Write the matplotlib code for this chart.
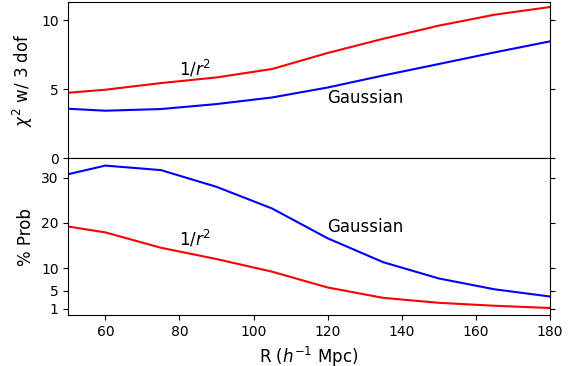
import numpy as np
import matplotlib
matplotlib.use('Agg')
from matplotlib import pyplot as plt

R = [50, 60, 75, 90, 105, 120, 135, 150, 165, 180]

# chi^2 with 3 dof
chi2_r2 = [4.76, 4.98, 5.46, 5.87, 6.48, 7.64, 8.67, 9.62, 10.41, 10.97]
chi2_gauss = [3.60, 3.46, 3.58, 3.94, 4.42, 5.14, 6.01, 6.84, 7.68, 8.48]

# % probability
prob_r2 = [19.2, 17.9, 14.5, 12.0, 9.2, 5.7, 3.4, 2.3, 1.65, 1.15]
prob_gauss = [30.8, 32.7, 31.7, 28.0, 23.2, 16.6, 11.3, 7.7, 5.3, 3.7]

top_yticks = [0, 5, 10]
bot_yticks = [1, 5, 10, 20, 30]

fig, (ax1, ax2) = plt.subplots(2, 1, sharex=True, figsize=(5.74, 3.66), dpi=100)
fig.subplots_adjust(left=0.119, right=0.958, top=0.995, bottom=0.139, hspace=0)

ax1.plot(R, chi2_r2, 'r-', lw=1.5)
ax1.plot(R, chi2_gauss, 'b-', lw=1.5)
ax1.set_ylim(bottom=0)
ax1.set_yticks(top_yticks)
ax1.set_ylabel(r'$\chi^2$ w/ 3 dof', fontsize=12)
ax1.text(80, 6, r'$1/r^2$', fontsize=12)
ax1.text(120, 4, 'Gaussian', fontsize=12)
ax1.tick_params(bottom=False, right=True)

ax2.plot(R, prob_r2, 'r-', lw=1.5)
ax2.plot(R, prob_gauss, 'b-', lw=1.5)
ax2.set_yticks(bot_yticks)
ax2.set_ylabel('% Prob', fontsize=12)
ax2.set_xlabel(r'R ($h^{-1}$ Mpc)', fontsize=12)
ax2.text(80, 15, r'$1/r^2$', fontsize=12)
ax2.text(120, 18, 'Gaussian', fontsize=12)
ax2.tick_params(right=True)
ax2.set_xlim(50, 180)
ax2.set_xticks([60, 80, 100, 120, 140, 160, 180])

fig.align_ylabels([ax1, ax2])
plt.savefig('out.png', dpi=100)
